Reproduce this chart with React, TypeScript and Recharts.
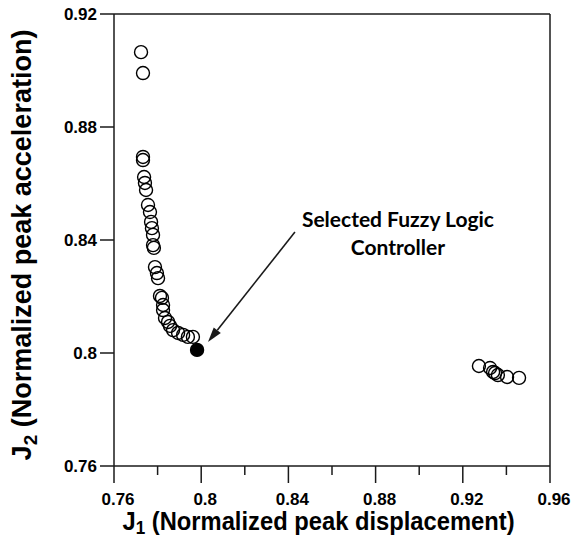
import React from 'react';
import {
  ScatterChart,
  Scatter,
  XAxis,
  YAxis,
  ReferenceLine,
} from 'recharts';

// Pareto front candidates (J1 = normalized peak displacement, J2 = normalized peak acceleration)
const frontJ1 = [
  0.7724, 0.7733, 0.7733, 0.7733, 0.7738, 0.7742, 0.7747, 0.7756, 0.7765, 0.777,
  0.7774, 0.7779, 0.7779, 0.7783, 0.7788, 0.7797, 0.7802, 0.7811, 0.782, 0.7825,
  0.7825, 0.7834, 0.7848, 0.7857, 0.7871, 0.7894, 0.7917, 0.7939, 0.7962,
];
const frontJ2 = [
  0.9065, 0.8991, 0.8694, 0.8683, 0.8623, 0.8602, 0.8577, 0.8524, 0.8499, 0.8464,
  0.8442, 0.8418, 0.8382, 0.8372, 0.8304, 0.8283, 0.8265, 0.8202, 0.8195, 0.817,
  0.8152, 0.8124, 0.811, 0.8096, 0.8081, 0.8071, 0.8064, 0.8057, 0.8057,
];

// isolated group on the right
const farJ1 = [0.9274, 0.9325, 0.9339, 0.9348, 0.9361, 0.9403, 0.9458];
const farJ2 = [0.7954, 0.7947, 0.7933, 0.7929, 0.7922, 0.7915, 0.7912];

// chosen controller
const selectedJ1 = [0.7981];
const selectedJ2 = [0.8011];

const xTicks = [0.76, 0.78, 0.8, 0.82, 0.84, 0.86, 0.88, 0.9, 0.92, 0.94, 0.96];
const yTicks = [0.76, 0.8, 0.84, 0.88, 0.92];

const annotationLines = ['Selected Fuzzy Logic', 'Controller'];
const arrowFrom = { x: 0.843, y: 0.8428 };
const arrowTo = { x: 0.8031, y: 0.8039 };

const toPoints = (xs: number[], ys: number[]) => xs.map((x, i) => ({ x, y: ys[i] }));

const hollowData = [...toPoints(frontJ1, frontJ2), ...toPoints(farJ1, farJ2)];
const selectedData = toPoints(selectedJ1, selectedJ2);

const INK = '#1a1a1a';
const tickFont = { fontFamily: '"Liberation Sans", Arial, sans-serif', fontWeight: 700, fontSize: 17 };

const XTick = (props: any) => {
  const { x, y, payload } = props;
  const major = Math.round(payload.value * 100) % 4 === 0;
  return (
    <g>
      <line x1={x} y1={y} x2={x} y2={y + (major ? 17 : 9)} stroke={INK} strokeWidth={1.5} />
      {major && (
        <text x={x + 4} y={y + 39} textAnchor="middle" fill="#000" {...tickFont}>
          {String(payload.value)}
        </text>
      )}
    </g>
  );
};

const YTick = (props: any) => {
  const { x, y, payload } = props;
  return (
    <g>
      <line x1={x - 14} y1={y} x2={x} y2={y} stroke={INK} strokeWidth={1.5} />
      <text x={x - 17} y={y + 6} textAnchor="end" fill="#000" {...tickFont}>
        {String(payload.value)}
      </text>
    </g>
  );
};

const OpenCircle = (props: any) => (
  <circle cx={props.cx} cy={props.cy} r={6.5} fill="none" stroke="#000" strokeWidth={1.4} />
);

const FilledCircle = (props: any) => (
  <circle cx={props.cx} cy={props.cy} r={6.5} fill="#000" stroke="#000" strokeWidth={1.4} />
);

// arrow pointing at the chosen controller, with its caption above the tail
const CalloutArrow = (props: any) => {
  const { x1, y1, x2, y2 } = props;
  const ang = Math.atan2(y2 - y1, x2 - x1);
  const len = 15;
  const half = 4.5;
  const bx = x2 - len * Math.cos(ang);
  const by = y2 - len * Math.sin(ang);
  const px = -Math.sin(ang) * half;
  const py = Math.cos(ang) * half;
  const captionFont = { fontFamily: 'Lato, "Open Sans", sans-serif', fontWeight: 700, fontSize: 21 };
  return (
    <g>
      <line x1={x1} y1={y1} x2={bx} y2={by} stroke={INK} strokeWidth={1.6} />
      <polygon points={`${x2},${y2} ${bx + px},${by + py} ${bx - px},${by - py}`} fill={INK} />
      <text x={x1 + 103} y={y1 - 5} textAnchor="middle" fill="#000" {...captionFont}>
        {annotationLines[0]}
      </text>
      <text x={x1 + 103} y={y1 + 23} textAnchor="middle" fill="#000" {...captionFont}>
        {annotationLines[1]}
      </text>
    </g>
  );
};

const titleFont = { fontFamily: '"Liberation Sans", Arial, sans-serif', fontWeight: 700 };

export default function App() {
  return (
    <div style={{ position: 'absolute', left: 0, top: 0, width: 575, height: 540, background: '#fff' }}>
      <ScatterChart width={575} height={540} margin={{ top: 14, right: 25, bottom: 14, left: 54 }}>
        <XAxis
          type="number"
          dataKey="x"
          domain={[0.76, 0.96]}
          ticks={xTicks}
          interval={0}
          height={60}
          tickSize={0}
          tickMargin={0}
          tickLine={false}
          tick={XTick}
          axisLine={{ stroke: INK, strokeWidth: 1.5 }}
          allowDataOverflow
        />
        <YAxis
          type="number"
          dataKey="y"
          domain={[0.76, 0.92]}
          ticks={yTicks}
          interval={0}
          width={60}
          tickSize={0}
          tickMargin={0}
          tickLine={false}
          tick={YTick}
          axisLine={{ stroke: INK, strokeWidth: 1.5 }}
          allowDataOverflow
        />
        <ReferenceLine y={0.92} stroke={INK} strokeWidth={1.5} />
        <ReferenceLine x={0.96} stroke={INK} strokeWidth={1.5} />
        <Scatter data={hollowData} shape={OpenCircle} isAnimationActive={false} />
        <Scatter data={selectedData} shape={FilledCircle} isAnimationActive={false} />
        <ReferenceLine
          segment={[arrowFrom, arrowTo]}
          shape={CalloutArrow}
        />
        <text
          x={0}
          y={0}
          textAnchor="middle"
          fill="#000"
          fontSize={25}
          transform="translate(318.5, 530) scale(0.95, 1)"
          {...titleFont}
        >
          J<tspan fontSize={18} dy={4}>1</tspan>
          <tspan dy={-4}> (Normalized peak displacement)</tspan>
        </text>
        <text
          x={31}
          y={245}
          textAnchor="middle"
          fill="#000"
          fontSize={27}
          transform="rotate(-90, 31, 245)"
          {...titleFont}
        >
          J<tspan fontSize={19} dy={6}>2</tspan>
          <tspan dy={-6}> (Normalized peak acceleration)</tspan>
        </text>
      </ScatterChart>
    </div>
  );
}
